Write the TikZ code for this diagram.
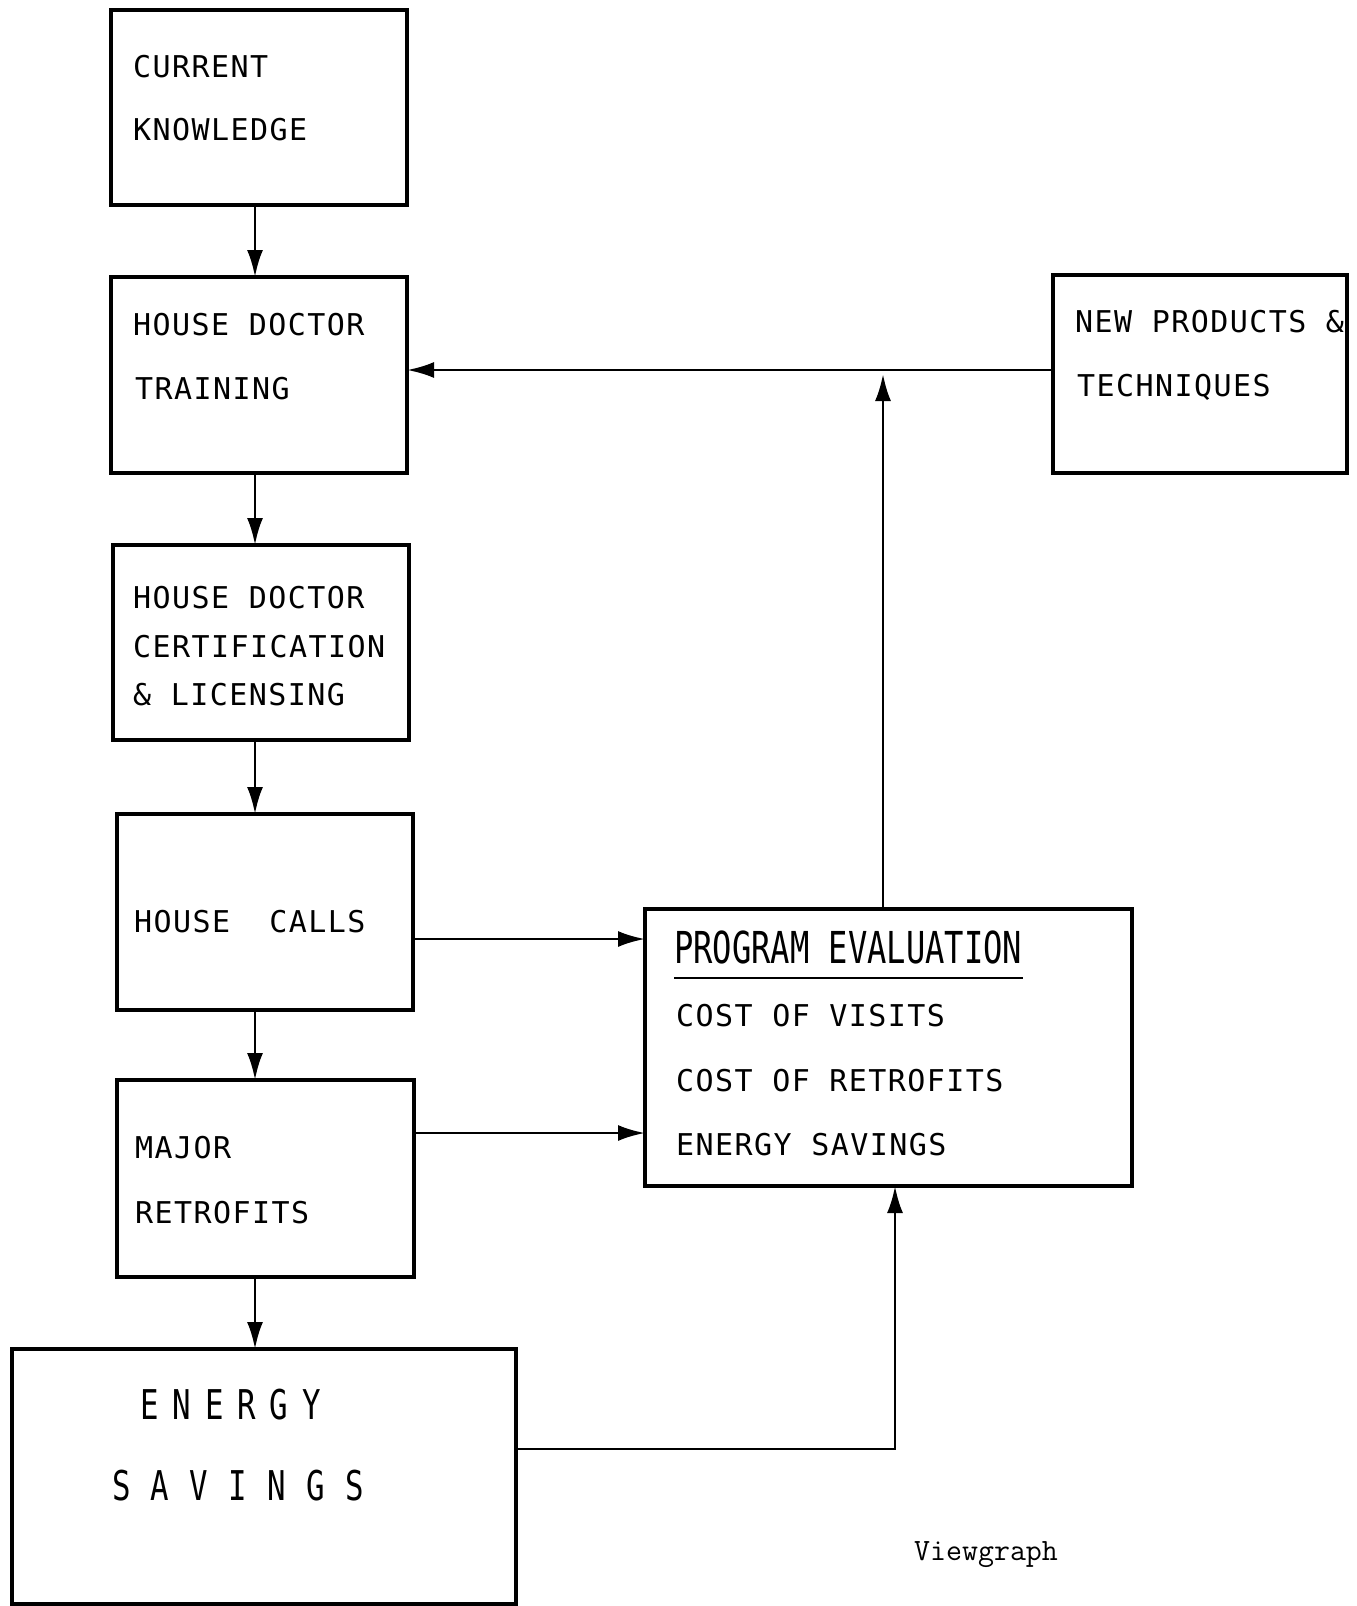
\documentclass[tikz,border=0pt]{standalone}
\usepackage{fontspec}
\usetikzlibrary{arrows.meta}
\newfontfamily\typfont[LetterSpace=4.8]{DejaVu Sans Mono}
\newfontfamily\titlefont[FakeStretch=0.73]{DejaVu Sans Mono}
\newfontfamily\bigfontA[FakeStretch=0.75,LetterSpace=34]{DejaVu Sans Mono}
\newfontfamily\bigfontB[FakeStretch=0.75,LetterSpace=49.5]{DejaVu Sans Mono}
\begin{document}
\begin{tikzpicture}[x=1pt,y=-1pt,
  box/.style={draw, line width=3.1pt, inner sep=0pt, outer sep=0pt},
  conn/.style={line width=2.8pt, -{Latex[length=27pt,width=16pt]}},
  txt/.style={anchor=base west, inner sep=0pt, font=\fontsize{30}{36}\typfont},
  ttl/.style={anchor=base west, inner sep=0pt, font=\fontsize{44}{50}\titlefont},
]
\fill[white] (0,0) rectangle (1357,1606);
\useasboundingbox (0,0) rectangle (1357,1606);

% boxes
\node[box, minimum width=296pt, minimum height=195pt] (b1) at (259,107.5) {};
\node[box, minimum width=296pt, minimum height=196pt] (b2) at (259,375) {};
\node[box, minimum width=296pt, minimum height=195pt] (b3) at (261,642.5) {};
\node[box, minimum width=296pt, minimum height=196pt] (b4) at (265,912) {};
\node[box, minimum width=297pt, minimum height=197pt] (b5) at (265.5,1178.5) {};
\node[box, minimum width=504pt, minimum height=255pt] (b6) at (264,1476.5) {};
\node[box, minimum width=487pt, minimum height=277pt] (pe) at (888.5,1047.5) {};
\node[box, minimum width=294pt, minimum height=198pt] (b8) at (1200,374) {};

% texts
\node[txt] (t1a) at (133,77) {CURRENT};
\node[txt] (t1b) at (133,140) {KNOWLEDGE};
\node[txt] (t2a) at (133,335) {HOUSE DOCTOR};
\node[txt] (t2b) at (135,399) {TRAINING};
\node[txt] (t3a) at (133,608) {HOUSE DOCTOR};
\node[txt] (t3b) at (133,657) {CERTIFICATION};
\node[txt] (t3c) at (133,705) {\& LICENSING};
\node[txt] (t4) at (134,932) {HOUSE~~CALLS};
\node[txt] (t5a) at (135,1158) {MAJOR};
\node[txt] (t5b) at (135,1223) {RETROFITS};
\node[anchor=base west, inner sep=0pt, font=\fontsize{41}{48}\bigfontA] (t6a) at (140,1419) {ENERGY};
\node[anchor=base west, inner sep=0pt, font=\fontsize{41}{48}\bigfontB] (t6b) at (112,1500) {SAVINGS};
\node[ttl] (pt) at (674,963) {PROGRAM EVALUATION};
\draw[line width=2.8pt] ([yshift=-15pt]pt.base west) -- ([yshift=-15pt,xshift=1pt]pt.base east);
\node[txt] (p1) at (676,1026) {COST OF VISITS};
\node[txt] (p2) at (676,1091) {COST OF RETROFITS};
\node[txt] (p3) at (676,1155) {ENERGY SAVINGS};
\node[txt] (n1) at (1075,332) {NEW PRODUCTS \&};
\node[txt] (n2) at (1077,396) {TECHNIQUES};
\node[anchor=base west, inner sep=0pt, font=\fontsize{31}{36}\ttfamily] (vg) at (914,1560) {Viewgraph};

% connectors
\coordinate (vx) at (255,0);
\draw[conn] (b1.south -| vx) -- (b2.north -| vx);
\draw[conn] (b2.south -| vx) -- (b3.north -| vx);
\draw[conn] (b3.south -| vx) -- (b4.north -| vx);
\draw[conn] (b4.south -| vx) -- (b5.north -| vx);
\draw[conn] (b5.south -| vx) -- (b6.north -| vx);
\coordinate (hc) at (0,939);
\draw[conn] (b4.east |- hc) -- (pe.west |- hc);
\coordinate (mr) at (0,1133);
\draw[conn] (b5.east |- mr) -- (pe.west |- mr);
\coordinate (es) at (895,1449);
\draw[conn] (b6.east |- es) -- (es) -- (es |- pe.south);
\coordinate (fb) at (883,370);
\coordinate (fbt) at (883,374);
\draw[conn] (pe.north -| fb) -- (fbt);
\draw[conn] (b8.west |- fb) -- (b2.east |- fb);
\end{tikzpicture}
\end{document}
